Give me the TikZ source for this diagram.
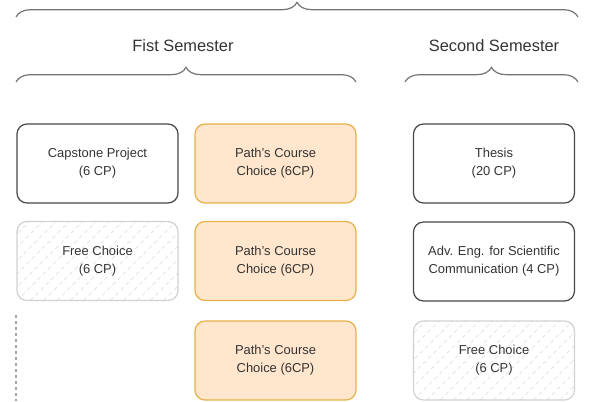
\documentclass[tikz,border=0pt]{standalone}
\usepackage{fontspec}
\setmainfont{Liberation Sans}
\usetikzlibrary{decorations.pathreplacing}

\definecolor{pathfill}{HTML}{FFE6CC}
\definecolor{pathline}{HTML}{E8B04A}
\definecolor{txt}{HTML}{333333}

\begin{document}
\begin{tikzpicture}[
	x=0.75pt,y=-0.75pt,
	course/.style={draw=black!72,line width=0.9pt,rounded corners=7.5pt,minimum width=120.75pt,minimum height=59.25pt,align=center,text=txt,font=\fontsize{9.7}{13.5}\selectfont},
	pathcourse/.style={course,draw=pathline,fill=pathfill},
	freecourse/.style={course,draw=black!18,path picture={
		\foreach \k in {-7,...,13}
			\draw[black!15,line width=0.4pt,dash pattern=on 3pt off 2.5pt,rounded corners=0pt] ([xshift=\k*10pt]path picture bounding box.south west) -- ++(70pt,70pt);}},
	semester/.style={text=txt,font=\fontsize{12.3}{14}\selectfont},
	bracket/.style={draw=black!55,line width=0.9pt,decorate,decoration={brace,amplitude=11pt}}
	]
		\useasboundingbox (0,0) rectangle (589,401);
		
		% braces and semester titles
		\draw[bracket] (16,17) -- (578,17);
		\path (183,46) node[semester] (sem1) {Fist Semester};
		\path (494,46) node[semester] (sem2) {Second Semester};
		\draw[bracket] (16,82) -- (356,82);
		\draw[bracket] (405,82) -- (578,82);
		
		% first semester
		\path (97.5,163.5) node[course] (capstone) {Capstone Project\\(6 CP)};
		\path (275.5,163.5) node[pathcourse] (path1) {Path{\char"0027}s Course\\Choice (6CP)};
		\path (97.5,261) node[freecourse] (free1) {Free Choice\\(6 CP)};
		\path (275.5,261) node[pathcourse] (path2) {Path{\char"0027}s Course\\Choice (6CP)};
		\path (275.5,360.5) node[pathcourse] (path3) {Path{\char"0027}s Course\\Choice (6CP)};
		\draw[black!35,line width=0.8pt,dash pattern=on 2.25pt off 2.25pt] (16,315) -- (16,401);
		
		% second semester
		\path (494,163.5) node[course] (thesis) {Thesis\\(20 CP)};
		\path (494,261.5) node[course] (adveng) {Adv. Eng. for Scientific\\Communication (4 CP)};
		\path (494,360.5) node[freecourse] (free2) {Free Choice\\(6 CP)};
		
	\end{tikzpicture}
\end{document}
